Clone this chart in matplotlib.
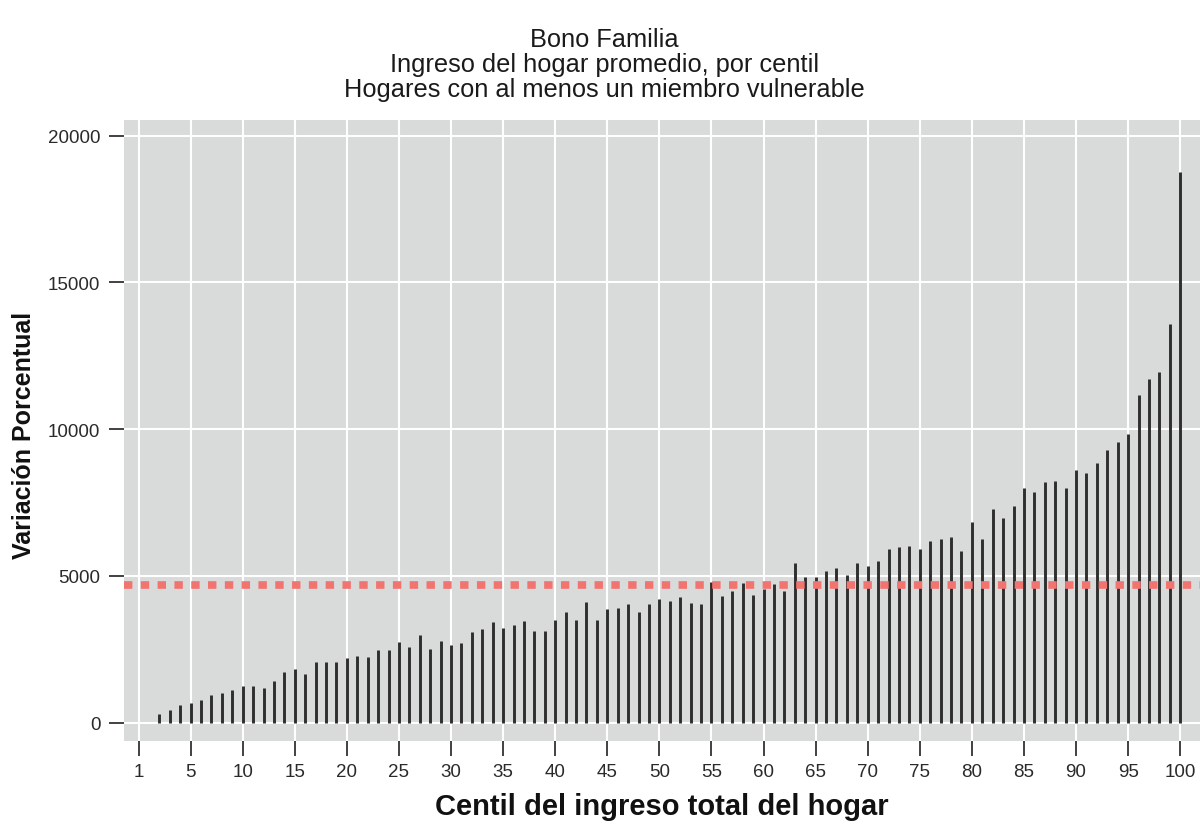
import matplotlib
matplotlib.use('Agg')
import matplotlib.pyplot as plt

# centil 2..100
centiles = list(range(2, 101))
values = [290, 436, 607, 675, 767, 937, 994, 1118, 1255,
          1255, 1175, 1425, 1710, 1823, 1664, 2050, 2050, 2050, 2187,
          2277, 2243, 2482, 2459, 2754, 2584, 2982, 2493, 2766, 2652,
          2709, 3072, 3186, 3413, 3209, 3333, 3469, 3118, 3118, 3492,
          3776, 3492, 4117, 3481, 3856, 3890, 4026, 3754, 4026, 4208,
          4151, 4265, 4083, 4037, 4799, 4310, 4480, 4742, 4333, 4537,
          4730, 4480, 5423, 4946, 4946, 5162, 5275, 5014, 5423, 5343,
          5491, 5911, 5968, 6013, 5911, 6195, 6252, 6320, 5840, 6840,
          6260, 7280, 6960, 7390, 7990, 7860, 8210, 8230, 8000, 8600,
          8500, 8840, 9300, 9560, 9830, 11150, 11700, 11940, 13580, 18750]
mean_line = 4700

x_ticks = [0, 5, 10, 15, 20, 25, 30, 35, 40, 45, 50, 55, 60, 65, 70, 75, 80, 85, 90, 95, 100]
x_labels = ['1', '5', '10', '15', '20', '25', '30', '35', '40', '45', '50',
            '55', '60', '65', '70', '75', '80', '85', '90', '95', '100']
y_ticks = [0, 5000, 10000, 15000, 20000]

title_lines = ['Bono Familia',
               'Ingreso del hogar promedio, por centil',
               'Hogares con al menos un miembro vulnerable']

plt.rcParams['font.family'] = ['Liberation Sans', 'DejaVu Sans']

fig = plt.figure(figsize=(12, 8.29), dpi=100)
ax = fig.add_axes([0.1033, 0.1053, 0.8967, 0.7487])
ax.set_facecolor('#d9dbdb')

ax.vlines(centiles, 0, values, color='#2e2e2e', linewidth=2.1, zorder=3)
ax.axhline(mean_line, color='#f27470', linewidth=5.5, linestyle=(0, (1.1, 1.1)),
           zorder=4)

ax.set_xlim(-1.4, 101.9)
ax.set_ylim(-620, 20530)
ax.set_xticks(x_ticks)
ax.set_xticklabels(x_labels)
ax.set_yticks(y_ticks)
ax.grid(True, color='white', linewidth=1.5, zorder=1)
ax.set_axisbelow(True)
for s in ax.spines.values():
    s.set_visible(False)

ax.tick_params(axis='both', length=11, width=1.3, color='#333333',
               labelsize=13.5, labelcolor='#2a2a2a', pad=5)
ax.tick_params(axis='y', pad=6)

ax.set_xlabel('Centil del ingreso total del hogar', fontsize=21,
              fontweight='bold', labelpad=9, color='#111111')
fig.text(0.02, 0.475, 'Variación Porcentual', rotation=90, ha='center',
         va='center', fontsize=18, fontweight='bold', color='#111111')

# three title lines, centred on the figure
for i, line in enumerate(title_lines):
    fig.text(0.504, 0.9515 - i * 0.0298, line, ha='center', va='center',
             fontsize=18.3, color='#1a1a1a')

fig.savefig('out.png', dpi=100)
